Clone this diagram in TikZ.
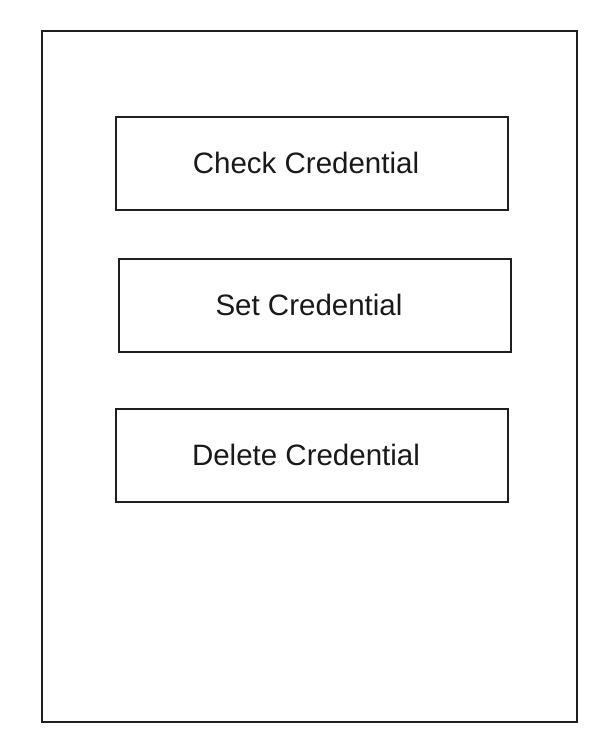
\documentclass[tikz,border=0pt]{standalone}
\usepackage{fontspec}
\setmainfont{Liberation Sans}
\begin{document}
\begin{tikzpicture}[x=1pt,y=-1pt,
  sketch/.style={draw=black!88,line width=1.6pt,inner sep=0pt,outer sep=0pt},
  cardbox/.style={sketch,minimum width=392pt,minimum height=93pt},
  lbl/.style={font=\fontsize{29.5}{34}\selectfont,text=black!90,inner sep=0pt}]
\useasboundingbox (0,0) rectangle (616,753);
\fill[white] (0,0) rectangle (616,753);
\node[sketch,minimum width=535pt,minimum height=691pt] (frame) at (309.5,376.5) {};
\node[cardbox] (check) at (312,163.5) {};
\node[cardbox] (set) at (315,305.5) {};
\node[cardbox] (delete) at (312,455.5) {};
\node[lbl] (checkt) at (306,163) {Check Credential};
\node[lbl] (sett) at (309,305) {Set Credential};
\node[lbl] (deletet) at (306,455) {Delete Credential};
\end{tikzpicture}
\end{document}
